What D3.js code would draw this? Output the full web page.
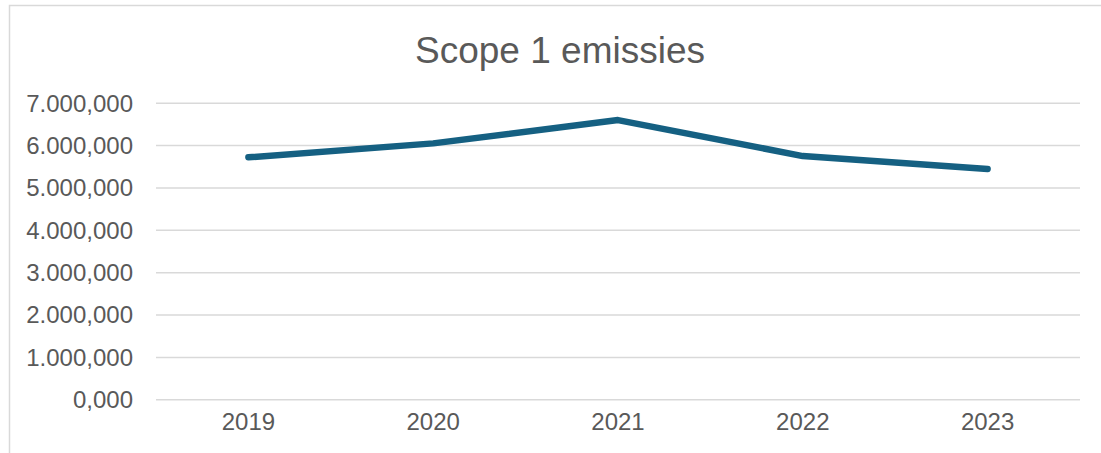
<!DOCTYPE html>
<html><head><meta charset="utf-8">
<script src="https://cdn.jsdelivr.net/npm/d3@7"></script>
<style>html,body{margin:0;padding:0;background:#fff;}svg{display:block;}</style>
</head><body><svg id="c" width="1101" height="453"></svg>
<script>
const categories = ["2019","2020","2021","2022","2023"];
const values = [5710, 6040, 6590, 5740, 5435];
const yTicks = [0,1000,2000,3000,4000,5000,6000,7000];
const title = "Scope 1 emissies";

const svg = d3.select("#c");
const font = "'Liberation Sans', Arial, sans-serif";
const plotL = 156, plotR = 1080, plotT = 102.7, plotB = 399.3;

// outer chart border
svg.append("rect").attr("x",9.5).attr("y",5.5).attr("width",1200).attr("height",600)
  .attr("fill","none").attr("stroke","#d9d9d9").attr("stroke-width",1.5);

const x = d3.scaleBand().domain(categories).range([plotL,plotR]);
const y = d3.scaleLinear().domain([0,7000]).range([plotB,plotT]);

const nl = d3.formatLocale({decimal:",", thousands:".", grouping:[3], currency:["€",""]});
const fmt = nl.format(",.3f");

// gridlines + y labels
const ya = svg.append("g").attr("transform",`translate(${plotL},0)`)
  .call(d3.axisLeft(y).tickValues(yTicks).tickSize(-(plotR-plotL)).tickPadding(23).tickFormat(fmt));
ya.select(".domain").remove();
ya.selectAll(".tick line").attr("stroke","#d9d9d9").attr("stroke-width",1.5);
ya.selectAll(".tick text").attr("fill","#595959").style("font-family",font).style("font-size","24px").attr("dy","0.35em");

// x labels
const xa = svg.append("g").attr("transform",`translate(0,${plotB})`)
  .call(d3.axisBottom(x).tickSize(0).tickPadding(14));
xa.select(".domain").remove();
xa.selectAll(".tick text").attr("fill","#595959").style("font-family",font).style("font-size","24px");

// line
const line = d3.line().x((d,i)=>x(categories[i])+x.bandwidth()/2).y(d=>y(d));
svg.append("path").datum(values).attr("d",line).attr("fill","none")
  .attr("stroke","#156082").attr("stroke-width",6.5).attr("stroke-linecap","round").attr("stroke-linejoin","round");

// title
svg.append("text").attr("x",560).attr("y",63).attr("text-anchor","middle")
  .attr("fill","#595959").style("font-family",font).style("font-size","37px").text(title);
</script></body></html>
